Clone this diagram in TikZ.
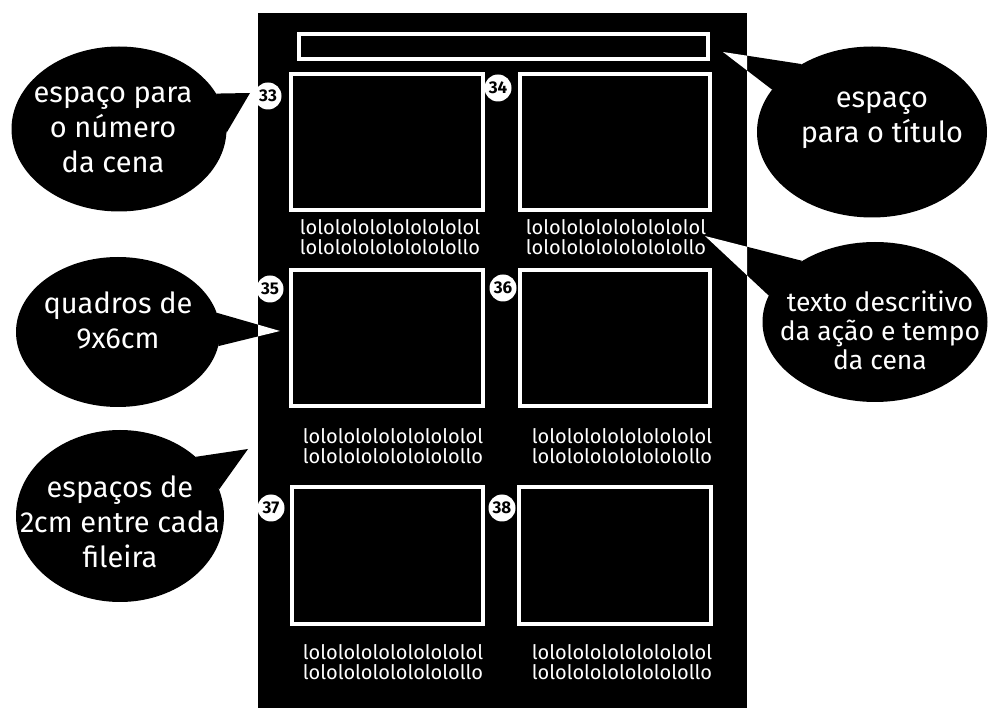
\documentclass[tikz,border=0pt]{standalone}
\usepackage{fontspec}
\setmainfont{Fira Sans}
\usepackage{tikz}
\usetikzlibrary{shapes.geometric}

\tikzset{
  bubble/.style={ellipse, fill=black, inner sep=0pt},
  bubtext/.style={white, align=center, font=\fontsize{29}{35}\selectfont},
  sheetframe/.style={draw=white, line width=4.5pt},
  scenenum/.style={circle, fill=white, inner sep=0pt, minimum size=27pt, font=\fontsize{17}{17}\selectfont\bfseries},
  loltext/.style={white, align=center, font=\fontsize{20}{20}\selectfont}
}

\begin{document}
\begin{tikzpicture}[x=1pt, y=-1pt]
  \useasboundingbox (0,0) rectangle (989,708);

  % --- Sheet ---
  \fill[black] (258,13) rectangle (747,708);
  \draw[draw=white, line width=3.5pt] (299,34) rectangle (708,59);

  % --- Row 1 ---
  \draw[sheetframe] (291,74) rectangle (483,210);
  \node[scenenum] (n33) at (268,96) {33};
  \node[loltext] (txt33) at (390,237) {lolololololololololol\\lololololololololollo};

  \draw[sheetframe] (520,74) rectangle (710,210);
  \node[scenenum] (n34) at (498,88) {34};
  \node[loltext] (txt34) at (616,237) {lolololololololololol\\lololololololololollo};

  % --- Row 2 ---
  \draw[sheetframe] (291,270) rectangle (483,406);
  \node[scenenum] (n35) at (270,289) {35};
  \node[loltext] (txt35) at (393,446) {lolololololololololol\\lololololololololollo};

  \draw[sheetframe] (520,270) rectangle (710,406);
  \node[scenenum] (n36) at (503,288) {36};
  \node[loltext] (txt36) at (622,446) {lolololololololololol\\lololololololololollo};

  % --- Row 3 ---
  \draw[sheetframe] (292,487) rectangle (483,624);
  \node[scenenum] (n37) at (271,508) {37};
  \node[loltext] (txt37) at (393,662) {lolololololololololol\\lololololololololollo};

  \draw[sheetframe] (519,487) rectangle (711,624);
  \node[scenenum] (n38) at (502,508) {38};
  \node[loltext] (txt38) at (622,662) {lolololololololololol\\lololololololololollo};

  % --- Bubbles ---
  \node[bubble, minimum width=215pt, minimum height=165pt] (bubnum) at (119,129) {};
  \node[bubble, minimum width=230pt, minimum height=171pt] (bubtitle) at (872,132) {};
  \node[bubble, minimum width=204pt, minimum height=150pt] (bubframe) at (118,332) {};
  \node[bubble, minimum width=208pt, minimum height=172pt] (bubrow) at (120,516) {};
  \node[bubble, minimum width=225pt, minimum height=160pt] (bubdesc) at (875,322) {};

  \coordinate (tipnum) at (250,93);
  \coordinate (tiptitle) at (723,52);
  \coordinate (tipframe) at (280,331);
  \coordinate (tiprow) at (248,449);
  \coordinate (tipdesc) at (705,236);

  % tails: black outside the sheet, white on it
  \foreach \b/\p/\q/\t in {bubnum/20/358/tipnum, bubtitle/136/157/tiptitle, bubframe/11/352/tipframe, bubrow/38/15/tiprow, bubdesc/140/166/tipdesc}
    \fill[black] (\b.\p) -- (\t) -- (\b.\q) -- cycle;
  \begin{scope}
    \clip (258,13) rectangle (747,708);
    \foreach \b/\p/\q/\t in {bubnum/20/358/tipnum, bubtitle/136/157/tiptitle, bubframe/11/352/tipframe, bubrow/38/15/tiprow, bubdesc/140/166/tipdesc}
      \fill[white] (\b.\p) -- (\t) -- (\b.\q) -- cycle;
  \end{scope}

  \node[bubtext] (numtxt) at (113,130) {espaço para\\o número\\da cena};
  \node[bubtext] (titletxt) at (882,120) {espaço\\para o título};
  \node[bubtext] (frametxt) at (118,320) {quadros de\\9x6cm};
  \node[bubtext] (rowtxt) at (120,522) {espaços de\\2cm entre cada\\fileira};
  \node[bubtext, font=\fontsize{26.5}{29}\selectfont] (desctxt) at (880,330) {texto descritivo\\da ação e tempo\\da cena};
\end{tikzpicture}
\end{document}
